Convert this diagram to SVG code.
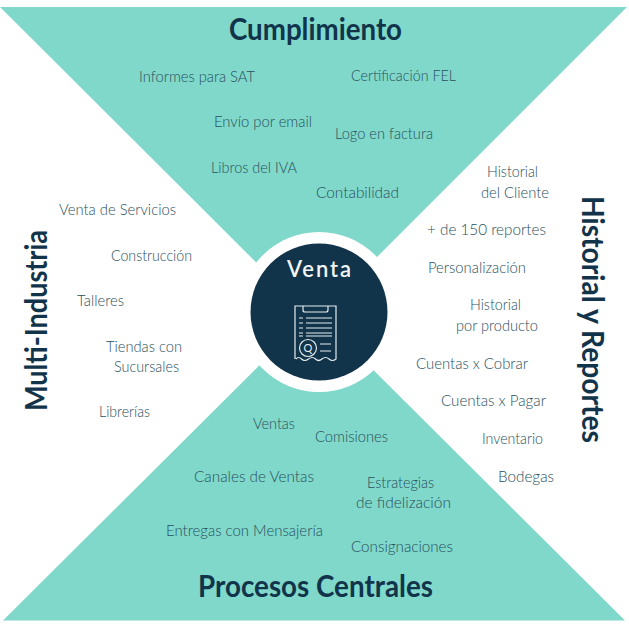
<svg xmlns="http://www.w3.org/2000/svg" width="629" height="627" viewBox="0 0 629 627">
<style>
.b{font-family:"Lato","Liberation Sans",sans-serif;font-size:15px;font-weight:300;fill:#2a5060;text-anchor:middle}
.t{font-family:"Lato","Liberation Sans",sans-serif;font-size:30px;font-weight:700;fill:#12344a;text-anchor:middle}
.i{fill:none;stroke:#e4ecef;stroke-width:1.2}
</style>
<rect width="629" height="627" fill="#ffffff"/>
<g id="triangulo-superior"><polygon points="0,7 627,7 314,320" fill="#7fd8ca"/></g>
<g id="triangulo-inferior"><polygon points="3,620.500 625,620.500 314,311" fill="#7fd8ca"/></g>
<g id="centro">
<circle cx="319" cy="312" r="80" fill="#ffffff"/>
<circle cx="319" cy="312" r="68.500" fill="#12344a"/>
<text x="319" y="277" font-family="Lato,'Liberation Sans',sans-serif" font-size="22" font-weight="600" fill="#f2f5f6" text-anchor="middle" textLength="64">Venta</text>
<g id="icono">
<g class="i">
<path d="M295 359V306H336V359q-3.500 3-7 0t-7 0t-6.500 0t-7 0t-7 0t-5.500 0"/>
<path d="M303 306v4q0 2 2 2h21q2 0 2-2v-4"/>
<path d="M299 318h4M306 318h26M299 323h4M306 323h26M299 328h4M306 328h26M299 333h4M306 333h26M299 336h4M306 336h26"/>
<circle cx="308" cy="348" r="8.500"/>
<path d="M320 344h11M320 351h11"/>
</g>
<text x="308" y="352" font-family="Lato,'Liberation Sans',sans-serif" font-size="11" fill="#e4ecef" text-anchor="middle">Q</text>
</g>
</g>
<g id="cumplimiento">
<text class="t" x="315.500" y="40" textLength="173" lengthAdjust="spacingAndGlyphs">Cumplimiento</text>
<text class="b" x="197" y="82" textLength="116" lengthAdjust="spacingAndGlyphs">Informes para SAT</text>
<text class="b" x="403.500" y="81" textLength="105" lengthAdjust="spacingAndGlyphs">Certificación FEL</text>
<text class="b" x="263" y="127" textLength="98" lengthAdjust="spacingAndGlyphs">Envío por email</text>
<text class="b" x="384" y="139" textLength="98" lengthAdjust="spacingAndGlyphs">Logo en factura</text>
<text class="b" x="254" y="173" textLength="86" lengthAdjust="spacingAndGlyphs">Libros del IVA</text>
<text class="b" x="357.500" y="198" textLength="83" lengthAdjust="spacingAndGlyphs">Contabilidad</text>
</g>
<g id="historial-y-reportes">
<text class="t" transform="translate(582 319.500) rotate(90)" textLength="247" lengthAdjust="spacingAndGlyphs">Historial y Reportes</text>
<text class="b" x="512.500" y="177" textLength="51" lengthAdjust="spacingAndGlyphs">Historial</text>
<text class="b" x="515" y="198" textLength="68" lengthAdjust="spacingAndGlyphs">del Cliente</text>
<text class="b" x="486.500" y="235" textLength="119" lengthAdjust="spacingAndGlyphs">+ de 150 reportes</text>
<text class="b" x="477" y="273" textLength="98" lengthAdjust="spacingAndGlyphs">Personalización</text>
<text class="b" x="495.500" y="310" textLength="51" lengthAdjust="spacingAndGlyphs">Historial</text>
<text class="b" x="497" y="331" textLength="82" lengthAdjust="spacingAndGlyphs">por producto</text>
<text class="b" x="472" y="369" textLength="112" lengthAdjust="spacingAndGlyphs">Cuentas x Cobrar</text>
<text class="b" x="493.500" y="406" textLength="105" lengthAdjust="spacingAndGlyphs">Cuentas x Pagar</text>
<text class="b" x="512.500" y="444" textLength="61" lengthAdjust="spacingAndGlyphs">Inventario</text>
<text class="b" x="526" y="482" textLength="56" lengthAdjust="spacingAndGlyphs">Bodegas</text>
</g>
<g id="multi-industria">
<text class="t" transform="translate(47 320.500) rotate(-90)" textLength="181" lengthAdjust="spacingAndGlyphs">Multi-Industria</text>
<text class="b" x="117.500" y="215" textLength="117" lengthAdjust="spacingAndGlyphs">Venta de Servicios</text>
<text class="b" x="151.500" y="261" textLength="81" lengthAdjust="spacingAndGlyphs">Construcción</text>
<text class="b" x="100.500" y="306" textLength="47" lengthAdjust="spacingAndGlyphs">Talleres</text>
<text class="b" x="144" y="352" textLength="76" lengthAdjust="spacingAndGlyphs">Tiendas con</text>
<text class="b" x="146.500" y="372" textLength="65" lengthAdjust="spacingAndGlyphs">Sucursales</text>
<text class="b" x="124.500" y="417" textLength="51" lengthAdjust="spacingAndGlyphs">Librerías</text>
</g>
<g id="procesos-centrales">
<text class="t" x="315.500" y="597" textLength="235" lengthAdjust="spacingAndGlyphs">Procesos Centrales</text>
<text class="b" x="274" y="429" textLength="42" lengthAdjust="spacingAndGlyphs">Ventas</text>
<text class="b" x="351.500" y="442" textLength="73" lengthAdjust="spacingAndGlyphs">Comisiones</text>
<text class="b" x="254" y="482" textLength="120" lengthAdjust="spacingAndGlyphs">Canales de Ventas</text>
<text class="b" x="400.500" y="488" textLength="67" lengthAdjust="spacingAndGlyphs">Estrategias</text>
<text class="b" x="403.500" y="508" textLength="95" lengthAdjust="spacingAndGlyphs">de fidelización</text>
<text class="b" x="244.500" y="536" textLength="157" lengthAdjust="spacingAndGlyphs">Entregas con Mensajería</text>
<text class="b" x="402" y="552" textLength="102" lengthAdjust="spacingAndGlyphs">Consignaciones</text>
</g>
</svg>
